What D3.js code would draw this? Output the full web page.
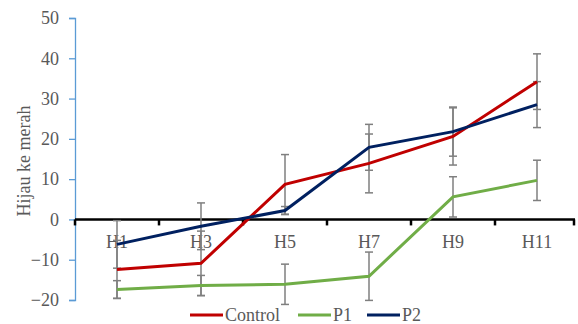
<!DOCTYPE html>
<html>
<head>
<meta charset="utf-8">
<script src="https://cdn.jsdelivr.net/npm/d3@7"></script>
<style>
  body { margin: 0; background: #fff; }
  svg { display: block; }
</style>
</head>
<body>
<svg id="chart" width="578" height="324"></svg>
<script>
"use strict";

const days = ["H1", "H3", "H5", "H7", "H9", "H11"];
const yTicks = [-20, -10, 0, 10, 20, 30, 40, 50];

const controlValues = [-12.4, -10.9, 8.7, 13.9, 20.6, 34.2];
const p1Values = [-17.4, -16.4, -16.1, -14.1, 5.6, 9.7];
const p2Values = [-6.2, -1.7, 2.2, 17.9, 21.8, 28.5];

const controlErr = [7.2, 8.0, 7.4, 7.3, 7.1, 6.9];
const p1Err = [2.2, 2.5, 5.0, 6.0, 5.0, 5.0];
const p2Err = [5.9, 5.8, 1.0, 5.7, 6.1, 5.7];

const series = [
    { name: "Control", values: controlValues, err: controlErr, color: "#c00000" },
    { name: "P1", values: p1Values, err: p1Err, color: "#70ad47" },
    { name: "P2", values: p2Values, err: p2Err, color: "#002060" }
];

(function () {
    const svg = d3.select("#chart");
    const left = 75, right = 579, top = 18, bottom = 300;
    const font = "'Liberation Serif', 'DejaVu Serif', serif";
    const grey = "#595959";

    const x = d3.scalePoint().domain(days).range([left, right]).padding(0.5);
    const y = d3.scaleLinear().domain([-20, 50]).range([bottom, top]);
    const step = x.step();

    function label(sel, size) {
        return sel.attr("fill", grey)
            .attr("font-family", font)
            .attr("font-size", size)
            .style("font-family", font)
            .style("font-size", size + "px");
    }

    // y axis
    const yAxis = svg.append("g")
        .attr("transform", `translate(${left},0)`)
        .call(d3.axisLeft(y).tickValues(yTicks).tickSize(6).tickPadding(10));
    yAxis.select(".domain").attr("stroke", "#5b9bd5").attr("stroke-width", 1.3);
    yAxis.selectAll(".tick line").attr("stroke", "#5b9bd5").attr("stroke-width", 1.3);
    yAxis.selectAll(".tick text").call(label, 18);

    svg.append("text")
        .attr("transform", `translate(30,${(top + bottom) / 2 + 2}) rotate(-90)`)
        .attr("text-anchor", "middle")
        .call(label, 18)
        .text("Hijau ke merah");

    // x axis on zero line
    const y0 = y(0);
    svg.append("line")
        .attr("x1", left).attr("x2", right - 4)
        .attr("y1", y0).attr("y2", y0)
        .attr("stroke", "#000").attr("stroke-width", 2.5);
    svg.append("g").selectAll("line")
        .data(d3.range(days.length + 1))
        .join("line")
        .attr("x1", i => Math.min(left + i * step, right - 5))
        .attr("x2", i => Math.min(left + i * step, right - 5))
        .attr("y1", y0).attr("y2", y0 + 6)
        .attr("stroke", "#000").attr("stroke-width", 2.5);
    svg.append("g").selectAll("text")
        .data(days)
        .join("text")
        .attr("x", d => x(d))
        .attr("y", y0 + 29)
        .attr("text-anchor", "middle")
        .call(label, 18)
        .text(d => d);

    // error bars
    const capW = 4;
    series.forEach(s => {
        const g = svg.append("g").attr("stroke", "#7f7f7f").attr("stroke-width", 1.5);
        days.forEach((d, i) => {
            const hi = y(s.values[i] + s.err[i]);
            const lo = y(s.values[i] - s.err[i]);
            const cx = x(d);
            g.append("line").attr("x1", cx).attr("x2", cx).attr("y1", hi).attr("y2", lo);
            g.append("line").attr("x1", cx - capW).attr("x2", cx + capW).attr("y1", hi).attr("y2", hi);
            g.append("line").attr("x1", cx - capW).attr("x2", cx + capW).attr("y1", lo).attr("y2", lo);
        });
    });

    // lines
    const line = d3.line()
        .x((v, i) => x(days[i]))
        .y(v => y(v));
    series.forEach(s => {
        svg.append("path")
            .datum(s.values)
            .attr("d", line)
            .attr("fill", "none")
            .attr("stroke", s.color)
            .attr("stroke-width", 3);
    });

    // legend
    const legendX = [190, 298, 367];
    const legend = svg.append("g");
    series.forEach((s, i) => {
        legend.append("line")
            .attr("x1", legendX[i]).attr("x2", legendX[i] + 33)
            .attr("y1", 315).attr("y2", 315)
            .attr("stroke", s.color).attr("stroke-width", 3);
        legend.append("text")
            .attr("x", legendX[i] + 35)
            .attr("y", 321)
            .call(label, 18)
            .text(s.name);
    });
})();
</script>
</body>
</html>
